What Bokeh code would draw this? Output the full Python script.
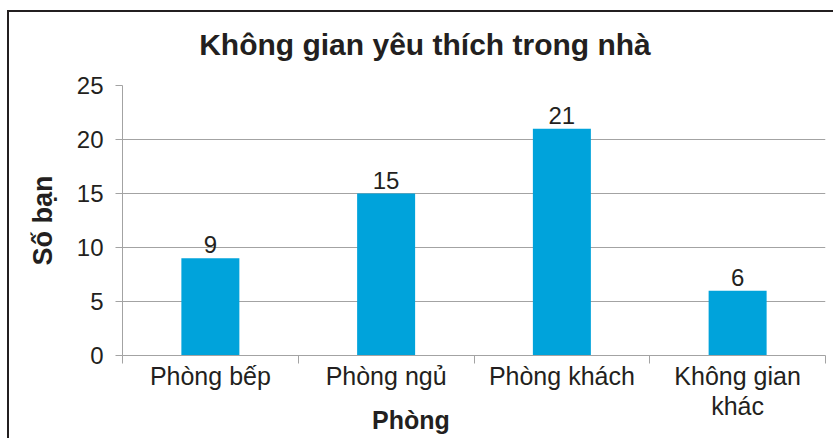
import numpy as np
from bokeh.plotting import figure
from bokeh.models import (ColumnDataSource, FactorRange, Range1d, LinearAxis,
                          CategoricalAxis, FixedTicker, Label, LabelSet)
from bokeh.core.properties import value
from bokeh.embed import file_html
from bokeh.resources import INLINE

# ---- data ----
categories = ["Phòng bếp", "Phòng ngủ", "Phòng khách", "Không gian\nkhác"]
counts = [9, 15, 21, 6]
y_ticks = [0, 5, 10, 15, 20, 25]
title_text = "Không gian yêu thích trong nhà"
x_title = "Phòng"
y_title = "Số bạn"

FONT = "Liberation Sans"
TEXT = "#231F20"
GRID = "#A3A3A3"
BAR = "#00A3DB"

source = ColumnDataSource(dict(cat=categories, n=counts,
                               lbl=[str(v) for v in counts]))

p = figure(x_range=FactorRange(*categories), y_range=Range1d(0, 25),
           width=826, height=428, output_backend="svg", toolbar_location=None,
           x_axis_type=None,
           min_border_left=113, min_border_right=10,
           min_border_top=73, min_border_bottom=85)
p.outline_line_color = None
p.background_fill_color = "white"
p.border_fill_color = "white"
p.styles = {"margin-left": "7px", "margin-top": "10px",
            "border-left": "2px solid #231F20", "border-top": "2px solid #231F20"}

# y axis
yax = p.yaxis[0]
yax.ticker = FixedTicker(ticks=y_ticks)
yax.axis_line_color = GRID
yax.major_tick_line_color = GRID
yax.major_tick_out = 7
yax.major_tick_in = 0
yax.minor_tick_line_color = None
yax.major_label_text_font = FONT
yax.major_label_text_font_size = "24px"
yax.major_label_text_color = TEXT
yax.major_label_standoff = 12
yax.axis_label = y_title
yax.axis_label_text_font = FONT
yax.axis_label_text_font_size = "27px"
yax.axis_label_text_font_style = "bold"
yax.axis_label_text_color = TEXT
yax.axis_label_standoff = 16

p.xgrid.visible = False
p.ygrid.grid_line_color = GRID
p.ygrid.ticker = FixedTicker(ticks=y_ticks)

# x axis: ticks on the category boundaries (no labels)
tick_axis = LinearAxis(ticker=FixedTicker(ticks=list(range(len(categories) + 1))),
                       major_label_text_color=None, major_label_standoff=0,
                       major_tick_out=8, major_tick_in=0,
                       minor_tick_line_color=None,
                       axis_line_color=GRID, major_tick_line_color=GRID)
p.add_layout(tick_axis, "below")

cat_axis = CategoricalAxis(axis_line_color=None, major_tick_line_color=None,
                           major_tick_out=0, major_tick_in=0,
                           major_label_standoff=-2,
                           major_label_text_font=FONT,
                           major_label_text_font_size="25px",
                           major_label_text_line_height=1.08,
                           major_label_text_color=TEXT)
p.add_layout(cat_axis, "below")

# bars
p.vbar(x="cat", top="n", width=0.33, source=source,
       fill_color=BAR, line_color=None)

labels = LabelSet(x="cat", y="n", text="lbl", source=source,
                  text_align="center", text_baseline="alphabetic", y_offset=5,
                  text_font=value(FONT), text_font_size=value("24px"),
                  text_color=value(TEXT))
p.add_layout(labels)

# chart title and x-axis title (placed in a side panel so they are not clipped)
p.add_layout(Label(x=1.721, y=28.8, text=title_text, text_align="center",
                   text_baseline="alphabetic", text_font=FONT,
                   text_font_size="30px", text_font_style="bold",
                   text_color=TEXT), "above")
p.add_layout(Label(x=1.6415, y=-6.0, text=x_title, text_align="center",
                   text_baseline="alphabetic", text_font=FONT,
                   text_font_size="25px", text_font_style="bold",
                   text_color=TEXT), "above")

open("out.html", "w").write(file_html(p, INLINE))
